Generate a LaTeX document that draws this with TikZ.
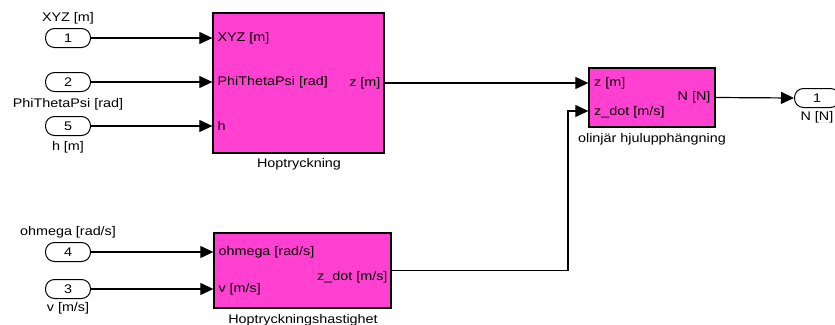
\documentclass[tikz,border=0pt]{standalone}
\usepackage{fontspec}
\setmainfont[FakeStretch=1.15]{Liberation Sans}
\usetikzlibrary{arrows.meta}
\definecolor{blockfill}{RGB}{255,64,208}

\begin{document}
\begin{tikzpicture}[x=1pt,y=-1pt,
  font=\fontsize{12.5}{14}\selectfont,
  blk/.style={draw=black, line width=1.3pt, fill=blockfill, inner sep=0pt},
  port/.style={draw=black, line width=1pt, rounded corners=9pt,
    minimum width=45pt, minimum height=19pt, inner sep=0pt},
  wire/.style={line width=1.2pt, -{Triangle[length=13pt,width=12pt]}},
  lbl/.style={inner sep=0pt}]
\useasboundingbox (0,0) rectangle (835,324);

% subsystem blocks
\node[blk, minimum width=171pt, minimum height=140pt] (hop) at (298.5,83) {};
\node[blk, minimum width=177pt, minimum height=75pt] (hh) at (302.5,270.5) {};
\node[blk, minimum width=126pt, minimum height=59pt] (olin) at (652,97.5) {};

% inports
\node[port] (in1) at (68,38) {1};
\node[port] (in2) at (68,82) {2};
\node[port] (in5) at (68,126) {5};
\node[port] (in4) at (68,252) {4};
\node[port] (in3) at (68,289) {3};
% outport
\node[port] (out1) at (817,98) {1};

% port names
\node[lbl] (in1name) at (68,18) {XYZ [m]};
\node[lbl] (in2name) at (68,104) {PhiThetaPsi [rad]};
\node[lbl] (in5name) at (68,147) {h [m]};
\node[lbl] (in4name) at (68,232) {ohmega [rad/s]};
\node[lbl] (in3name) at (68,308) {v [m/s]};
\node[lbl] (out1name) at (817,117) {N [N]};

% block names
\node[lbl] (hopname) at (299,164) {Hoptryckning};
\node[lbl] (hhname) at (303,320) {Hoptryckningshastighet};
\node[lbl] (olinname) at (652,139) {olinjär hjulupphängning};

% port labels inside the blocks
\node[lbl, anchor=west] (hopxyz) at ([xshift=5pt]hop.west |- in1) {XYZ [m]};
\node[lbl, anchor=west] (hopphi) at ([xshift=5pt]hop.west |- in2) {PhiThetaPsi [rad]};
\node[lbl, anchor=west] (hoph) at ([xshift=5pt]hop.west |- in5) {h};
\node[lbl, anchor=east] (hopz) at ([xshift=-4pt]hop.east) {z [m]};
\node[lbl, anchor=west] (hhom) at ([xshift=5pt]hh.west |- in4) {ohmega [rad/s]};
\node[lbl, anchor=west] (hhv) at ([xshift=5pt]hh.west |- in3) {v [m/s]};
\node[lbl, anchor=east] (hhzd) at ([xshift=-4pt,yshift=-7pt]hh.east) {z\_dot [m/s]};
\node[lbl, anchor=west] (olz) at (594,83) {z [m]};
\node[lbl, anchor=west] (olzd) at (594,112) {z\_dot [m/s]};
\node[lbl, anchor=east] (olN) at ([xshift=-5pt]olin.east) {N [N]};

% connectors
\draw[wire] (in1.east) -- (in1.east -| hop.west);
\draw[wire] (in2.east) -- (in2.east -| hop.west);
\draw[wire] (in5.east) -- (in5.east -| hop.west);
\draw[wire] (in4.east) -- (in4.east -| hh.west);
\draw[wire] (in3.east) -- (in3.east -| hh.west);
\draw[wire] (hop.east) -- (hop.east -| olin.west);
\coordinate (zdbend) at (568,111);
\draw[wire] (hh.east) -| (zdbend) -- (zdbend -| olin.west);
\draw[wire] (olin.east) -- (out1.west);
\end{tikzpicture}
\end{document}
